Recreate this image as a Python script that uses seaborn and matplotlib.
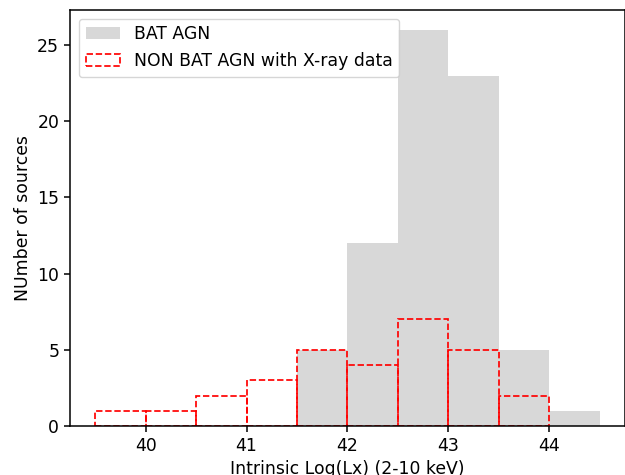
import numpy as np
import matplotlib
matplotlib.use("Agg")
import matplotlib.pyplot as plt
import seaborn as sns

# BAT AGN: bin edges and counts (0.5 dex bins)
bat_edges = [41.5, 42.0, 42.5, 43.0, 43.5, 44.0, 44.5]
bat_centers = [41.75, 42.25, 42.75, 43.25, 43.75, 44.25]
bat_counts = [5, 12, 26, 23, 5, 1]

# Non-BAT AGN with X-ray data: bin edges and counts
nonbat_edges = [39.5, 40.0, 40.5, 41.0, 41.5, 42.0, 42.5, 43.0, 43.5, 44.0]
nonbat_centers = [39.75, 40.25, 40.75, 41.25, 41.75, 42.25, 42.75, 43.25, 43.75]
nonbat_counts = [1, 1, 2, 3, 5, 4, 7, 5, 2]

fs = 12.4

fig = plt.figure(figsize=(6.25, 4.75), dpi=100)
ax = fig.add_axes([0.112, 0.103, 0.888, 0.876])

sns.histplot(x=bat_centers, weights=bat_counts, bins=bat_edges, ax=ax,
             color="gray", alpha=0.3, edgecolor="none", linewidth=0,
             label="BAT AGN")
sns.histplot(x=nonbat_centers, weights=nonbat_counts, bins=nonbat_edges, ax=ax,
             fill=False, color="red", edgecolor="red", linestyle="--",
             linewidth=1.24, label="NON BAT AGN with X-ray data")

ax.set_xlim(39.25, 44.75)
ax.set_ylim(0, 27.3)
ax.set_xlabel("Intrinsic Log(Lx) (2-10 keV)", fontsize=fs)
ax.set_ylabel("NUmber of sources", fontsize=fs)
ax.tick_params(labelsize=fs, width=1.1, length=4.3)
for s in ax.spines.values():
    s.set_linewidth(1.1)
ax.legend(loc="upper left", fontsize=fs)

fig.savefig("out.png", dpi=100)
